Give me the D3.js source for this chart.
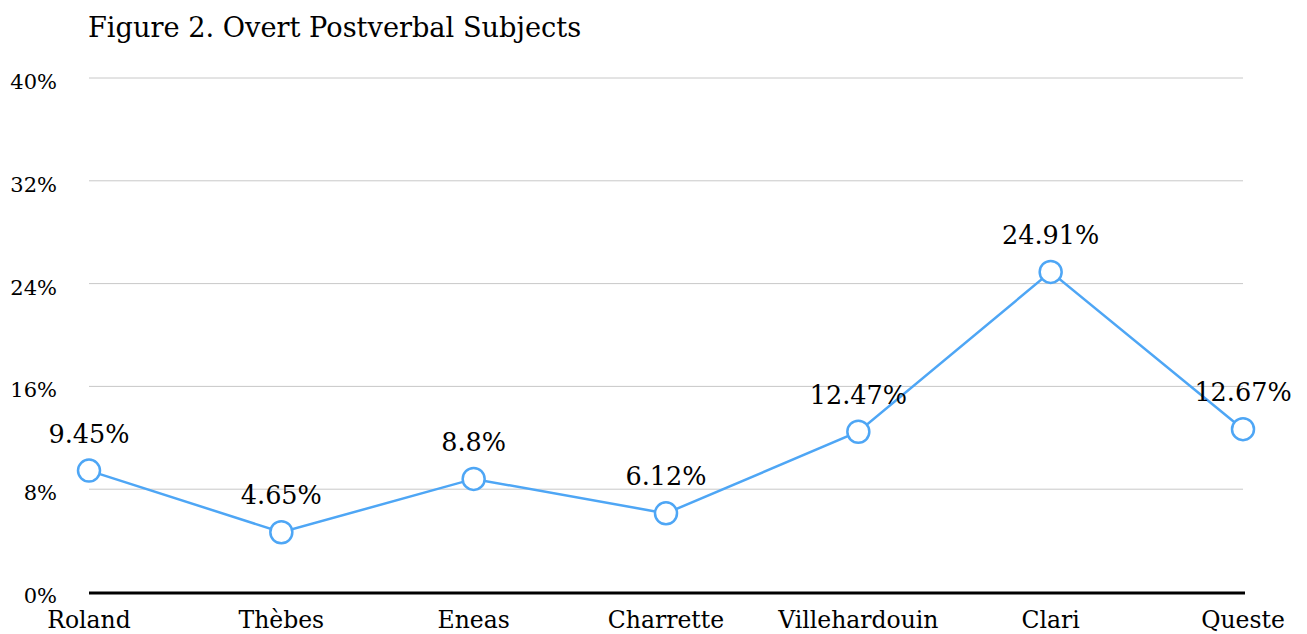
<!DOCTYPE html>
<html>
<head>
<meta charset="utf-8">
<script src="https://cdn.jsdelivr.net/npm/d3@7"></script>
<style>
  html, body { margin: 0; padding: 0; background: #fff; }
  svg { display: block; }
  text { font-family: "Palatino Linotype", "Book Antiqua", Palatino, "DejaVu Serif", serif; fill: #000; }
</style>
</head>
<body>
<svg id="chart" width="1307" height="634"></svg>
<script>
const title = "Figure 2. Overt Postverbal Subjects";
const categories = ["Roland", "Thèbes", "Eneas", "Charrette", "Villehardouin", "Clari", "Queste"];
const values = [9.45, 4.65, 8.8, 6.12, 12.47, 24.91, 12.67];
const valueLabels = ["9.45%", "4.65%", "8.8%", "6.12%", "12.47%", "24.91%", "12.67%"];
const yTicks = [0, 8, 16, 24, 32, 40];

const svg = d3.select("#chart");
const plotLeft = 89, plotRight = 1243, plotTop = 78, plotBottom = 592;
const color = "#4ea6f5";

const x = d3.scalePoint().domain(categories).range([plotLeft, plotRight]).padding(0);
const y = d3.scaleLinear().domain([0, 40]).range([plotBottom, plotTop]);

// title
svg.append("text").attr("x", 88).attr("y", 37)
  .attr("font-size", 27.2).text(title);

// gridlines
svg.append("g").selectAll("line").data(yTicks.filter(d => d > 0)).join("line")
  .attr("x1", plotLeft).attr("x2", plotRight)
  .attr("y1", d => y(d)).attr("y2", d => y(d))
  .attr("stroke", "#c8c8c8").attr("stroke-width", 1);

// y tick labels
svg.append("g").selectAll("text").data(yTicks).join("text")
  .attr("x", 57).attr("y", d => y(d) + 11)
  .attr("text-anchor", "end").attr("font-size", 21)
  .text(d => d + "%");

// baseline axis
svg.append("line").attr("x1", plotLeft).attr("x2", plotRight + 2)
  .attr("y1", y(0) + 1).attr("y2", y(0) + 1)
  .attr("stroke", "#000").attr("stroke-width", 3);

// category labels
svg.append("g").selectAll("text").data(categories).join("text")
  .attr("x", d => x(d)).attr("y", 628)
  .attr("text-anchor", "middle").attr("font-size", 23.5)
  .text(d => d);

// line
const pts = categories.map((c, i) => [x(c), y(values[i])]);
svg.append("path").attr("d", d3.line()(pts))
  .attr("fill", "none").attr("stroke", color).attr("stroke-width", 2.5);

// points
svg.append("g").selectAll("circle").data(pts).join("circle")
  .attr("cx", d => d[0]).attr("cy", d => d[1]).attr("r", 11)
  .attr("fill", "#fff").attr("stroke", color).attr("stroke-width", 2.5);

// value labels
svg.append("g").selectAll("text").data(pts).join("text")
  .attr("x", d => d[0]).attr("y", d => d[1] - 28)
  .attr("text-anchor", "middle").attr("font-size", 25.5)
  .text((d, i) => valueLabels[i]);
</script>
</body>
</html>
